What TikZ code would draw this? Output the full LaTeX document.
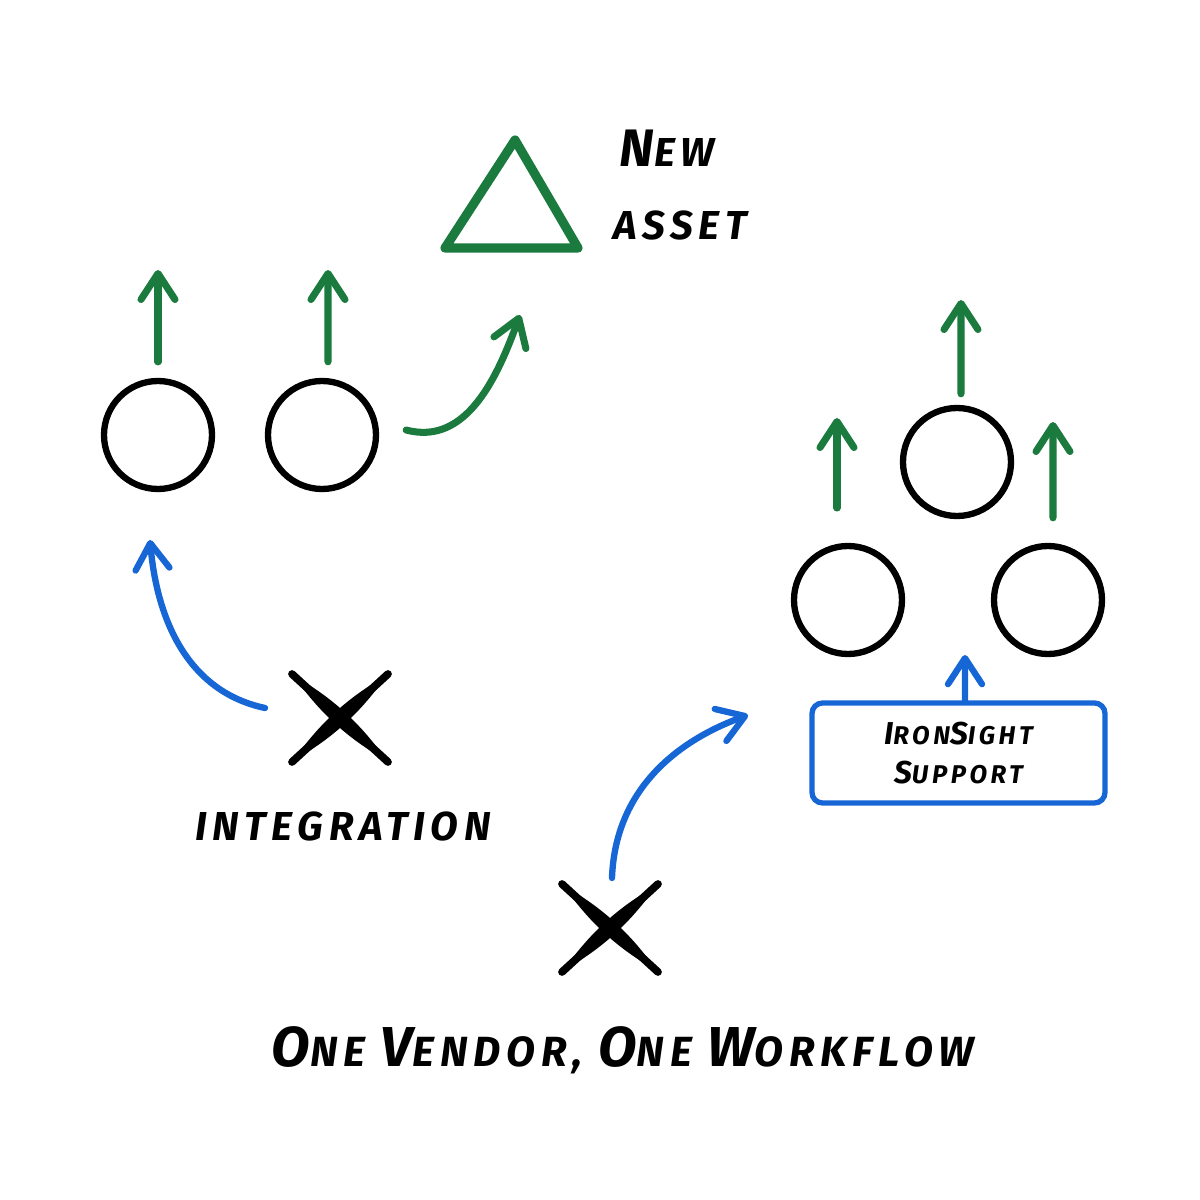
\documentclass[tikz,border=0pt]{standalone}
\usepackage{fontspec}
\setmainfont{Fira Sans}[LetterSpace=14]
\usetikzlibrary{arrows.meta}
\definecolor{inkgreen}{RGB}{27,122,62}
\definecolor{inkblue}{RGB}{22,102,214}
% bigger first letters of the hand lettering
\newcommand\capl[1]{{\fontsize{15}{17}\selectfont #1}}
\newcommand\capt[1]{{\fontsize{16}{18}\selectfont #1}}
\newcommand\capb[1]{{\fontsize{9}{11}\selectfont #1}}
\begin{document}
\begin{tikzpicture}[
    ring/.style={circle,draw=black,line width=1.8pt,minimum size=1.08cm,inner sep=0pt},
    garrow/.style={draw=inkgreen,line width=2pt,line cap=round,
      -{Straight Barb[round,length=2.6mm,width=3.4mm]}},
    barrow/.style={draw=inkblue,line width=1.8pt,line cap=round,
      -{Straight Barb[round,length=2.6mm,width=3.4mm]}},
    hand/.style={font=\bfseries\itshape\fontsize{11.5}{13}\selectfont,inner sep=0pt},
    supportbox/.style={draw=inkblue,line width=1.5pt,rounded corners=3pt,
      minimum width=2.93cm,minimum height=1cm,align=center,
      font=\bfseries\itshape\fontsize{7.3}{11}\selectfont},
  ]
  \fill[white] (0,0) rectangle (12,12);
  \useasboundingbox (0,0) rectangle (12,12);

  % new asset
  \coordinate (ta) at (4.45,9.52); \coordinate (tb) at (5.78,9.52);
  \coordinate (tc) at (5.15,10.60);
  \draw[inkgreen,line width=2.6pt,line join=round] (ta)--(tb)--(tc)--cycle;
  \node[hand] (new) at (6.67,10.52) {\capl{N}EW};
  \node[hand] (asset) at (6.80,9.75) {ASSET};

  % circles
  \node[ring] (c1) at (1.58,7.65) {};
  \node[ring] (c2) at (3.22,7.65) {};
  \node[ring] (c3) at (9.57,7.38) {};
  \node[ring] (c4) at (8.48,6.00) {};
  \node[ring] (c5) at (10.48,6.00) {};

  % green arrows
  \coordinate (t1) at (1.58,9.30); \coordinate (t2) at (3.28,9.30);
  \coordinate (t3) at (5.20,8.85);
  \draw[garrow] ([yshift=1.6mm]c1.north) -- (t1);
  \draw[garrow] ([xshift=0.6mm,yshift=1.6mm]c2.north) -- (t2);
  \draw[garrow] ([xshift=2.7mm,yshift=0.5mm]c2.east) to[out=-15,in=-110] (t3);
  \coordinate (s4) at (8.37,6.92); \coordinate (t4) at (8.37,7.82);
  \coordinate (t5) at (9.61,9.00); \coordinate (t6) at (10.53,7.78);
  \draw[garrow] (s4) -- (t4);
  \draw[garrow] ([xshift=0.4mm,yshift=1.1mm]c3.north) -- (t5);
  \draw[garrow] ([xshift=0.5mm,yshift=2.5mm]c5.north) -- (t6);

  % crosses
  \coordinate (x1) at (3.40,4.82); \coordinate (x2) at (6.10,2.72);
  \foreach \p in {x1,x2}{
    \begin{scope}[shift={(\p)}]
      \draw[line width=2.2pt,line cap=round] (-0.48,-0.44) -- (0.48,0.44);
      \draw[line width=2.2pt,line cap=round] (-0.48,0.44) -- (0.48,-0.44);
      \fill (-0.46,-0.42) .. controls (-0.22,-0.066) and (0.086,0.214) .. (0.46,0.42)
        .. controls (0.22,0.066) and (-0.086,-0.214) .. cycle;
      \fill (-0.46,0.42) .. controls (-0.22,0.066) and (0.086,-0.214) .. (0.46,-0.42)
        .. controls (0.22,-0.066) and (-0.086,0.214) .. cycle;
    \end{scope}
  }
  \node[hand] (integ) at (3.43,3.74) {INTEGRATION};

  % blue arrows
  \coordinate (b1) at (2.65,4.92); \coordinate (b2) at (6.12,3.22);
  \coordinate (tb1) at (1.50,6.60); \coordinate (tb2) at (7.48,4.85);
  \draw[barrow] (b1) to[out=168,in=-85] (tb1);
  \draw[barrow] (b2) to[out=88,in=200] (tb2);

  \node[supportbox] (sup) at (9.585,4.47) {\capb{I}RON\capb{S}IGHT\\\capb{S}UPPORT};
  \coordinate (tb3) at (9.65,5.45);
  \draw[barrow] ([xshift=0.65mm]sup.north) -- (tb3);

  \node[hand,font=\bfseries\itshape\fontsize{12}{14}\selectfont] (title) at (6.23,1.50)
    {\capt{O}NE \capt{V}ENDOR, \capt{O}NE \capt{W}ORKFLOW};
\end{tikzpicture}
\end{document}
